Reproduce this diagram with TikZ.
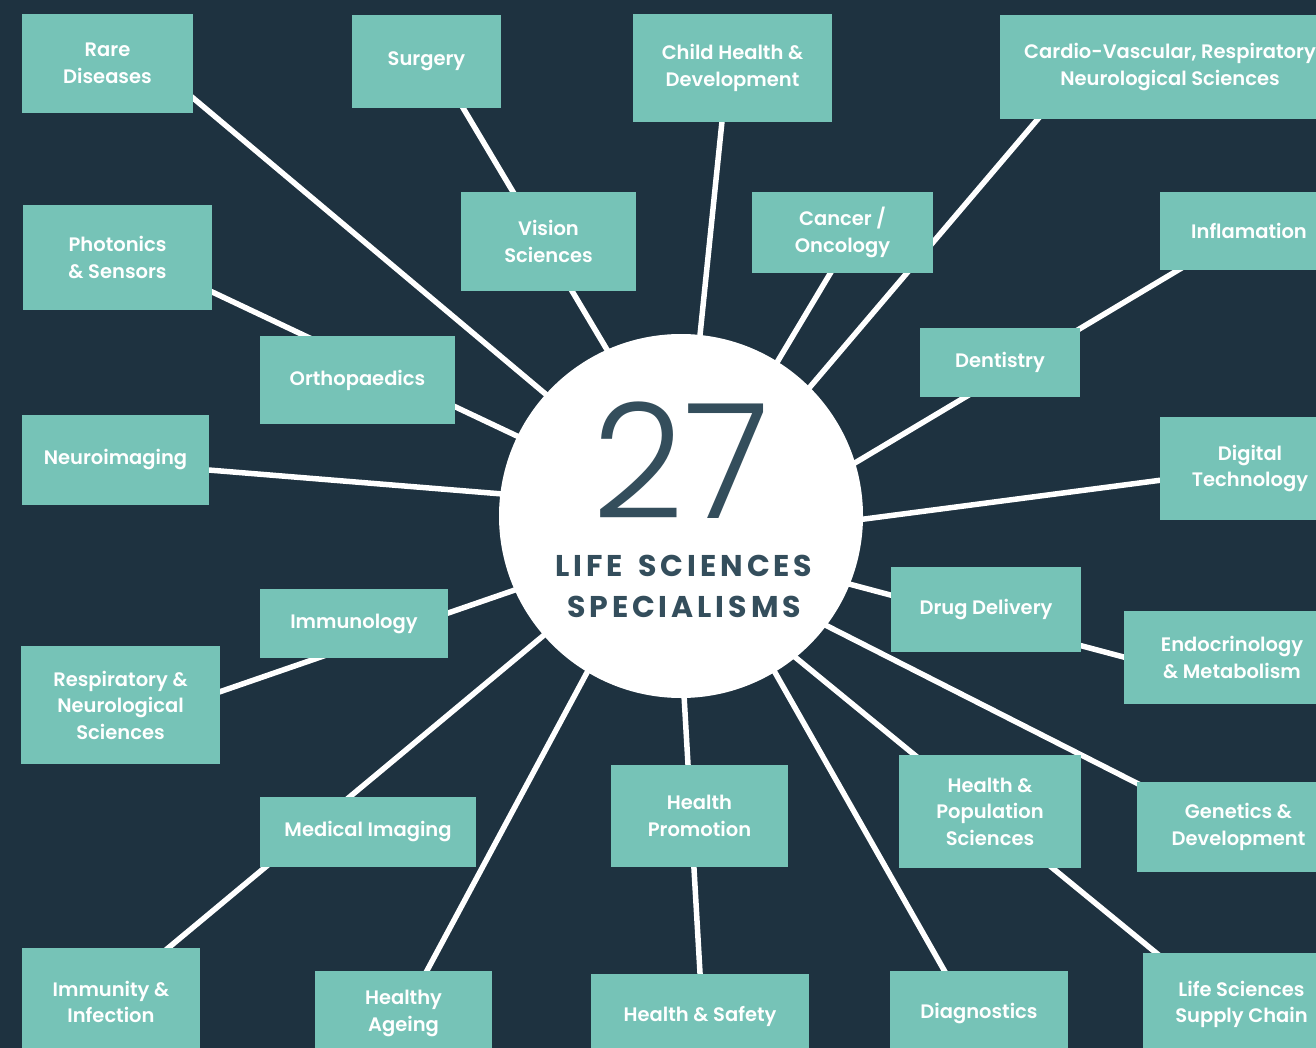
\documentclass[tikz,border=0pt]{standalone}
\usepackage{fontspec}
\setmainfont{Poppins}[BoldFont=Poppins SemiBold]
\newfontfamily\numfont{Poppins Light}
\newfontfamily\capsfont{Poppins}[UprightFont=* Bold, LetterSpace=13, WordSpace=1.5]
\definecolor{navy}{RGB}{30,50,64}
\definecolor{boxteal}{RGB}{118,195,183}
\definecolor{ink}{RGB}{52,78,92}
\begin{document}
\begin{tikzpicture}[x=1pt,y=-1pt,
  box/.style={fill=boxteal, text=white, inner sep=0pt, outer sep=0pt, align=center,
    font=\bfseries\fontsize{19.5}{26.5}\selectfont},
  hubtext/.style={anchor=base, text=ink, inner sep=0pt, text depth=0pt},
  link/.style={draw=white, line width=5.5pt, shorten >=-10pt}]
\useasboundingbox (0,0) rectangle (1316,1048);
\clip (0,0) rectangle (1316,1048);
\fill[navy] (0,0) rectangle (1316,1048);

% hub placement
\node[circle, minimum size=364pt, inner sep=0pt] (c) at (681,516) {};

% outer ends of the spokes
\coordinate (rareE) at (174,82);
\coordinate (surgE) at (450,86);
\coordinate (childE) at (724.5,97);
\coordinate (cardE) at (1054,100);
\coordinate (cancE) at (843,252);
\coordinate (inflE) at (1200,257);
\coordinate (photE) at (189,281);
\coordinate (neurE) at (184,468);
\coordinate (digiE) at (1185,477);
\coordinate (respE) at (196,700);
\coordinate (endoE) at (1148,663.5);
\coordinate (immuE) at (149,964);
\coordinate (ageE) at (415,993);
\coordinate (safeE) at (701.5,999);
\coordinate (diagE) at (957,993);
\coordinate (suppE) at (1177,970);
\coordinate (geneE) at (1162,796);

% spokes
\draw[link] (rareE) -- (c.138.8);
\draw[link] (surgE) -- (c.114.9);
\draw[link] (childE) -- (c.84);
\draw[link] (cardE) -- (c.45);
\draw[link] (cancE) -- (c.58.7);
\draw[link] (inflE) -- (c.17.8);
\draw[link] (photE) -- (c.154.1);
\draw[link] (neurE) -- (c.173.1);
\draw[link] (digiE) -- (c.359.4);
\draw[link] (respE) -- (c.204.3);
\draw[link] (endoE) -- (c.338.4);
\draw[link] (immuE) -- (c.221.7);
\draw[link] (ageE) -- (c.239.9);
\draw[link] (safeE) -- (c.271);
\draw[link] (diagE) -- (c.301.4);
\draw[link] (suppE) -- (c.309.4);
\draw[link] (geneE) -- (c.323.4);

% hub disc over the spoke ends
\fill[white] (c) circle[radius=182pt];
\node[hubtext, font=\numfont\fontsize{160}{160}\selectfont] (num) at (681,518) {27};
\node[hubtext, font=\capsfont\fontsize{30}{30}\selectfont] (l1) at (684,576) {LIFE SCIENCES};
\node[hubtext, font=\capsfont\fontsize{30}{30}\selectfont] (l2) at (684,617) {SPECIALISMS};

% specialism boxes
\node[box, minimum width=171pt, minimum height=99pt] (rare) at (107.5,63.5) {Rare\\Diseases};
\node[box, minimum width=149pt, minimum height=93pt] (surg) at (426.5,61.5) {Surgery};
\node[box, minimum width=199pt, minimum height=108pt] (child) at (732.5,68) {Child Health \&\\Development};
\node[box, minimum width=340pt, minimum height=104pt] (card) at (1170,67) {Cardio-Vascular, Respiratory\\Neurological Sciences};
\node[box, minimum width=175pt, minimum height=99pt] (vis) at (548.5,241.5) {Vision\\Sciences};
\node[box, minimum width=181pt, minimum height=81pt] (canc) at (842.5,232.5) {Cancer /\\Oncology};
\node[box, minimum width=178pt, minimum height=78pt] (infl) at (1249,231) {Inflamation};
\node[box, minimum width=189pt, minimum height=105pt] (phot) at (117.5,257.5) {Photonics\\\& Sensors};
\node[box, minimum width=195pt, minimum height=88pt] (orth) at (357.5,380) {Orthopaedics};
\node[box, minimum width=160pt, minimum height=69pt] (dent) at (1000,362.5) {Dentistry};
\node[box, minimum width=187pt, minimum height=90pt] (neur) at (115.5,460) {Neuroimaging};
\node[box, minimum width=180pt, minimum height=103pt] (digi) at (1250,468.5) {Digital\\Technology};
\node[box, minimum width=188pt, minimum height=69pt] (immo) at (354,623.5) {Immunology};
\node[box, minimum width=190pt, minimum height=85pt] (drug) at (986,609.5) {Drug Delivery};
\node[box, minimum width=199pt, minimum height=118pt] (resp) at (120.5,705) {Respiratory \&\\Neurological\\Sciences};
\node[box, minimum width=216pt, minimum height=93pt] (endo) at (1232,657.5) {Endocrinology\\\& Metabolism};
\node[box, minimum width=216pt, minimum height=70pt] (mimg) at (368,832) {Medical Imaging};
\node[box, minimum width=177pt, minimum height=102pt] (prom) at (699.5,816) {Health\\Promotion};
\node[box, minimum width=182pt, minimum height=113pt] (hpop) at (990,811.5) {Health \&\\Population\\Sciences};
\node[box, minimum width=203pt, minimum height=90pt] (gene) at (1238.5,827) {Genetics \&\\Development};
\node[box, minimum width=178pt, minimum height=108pt] (immu) at (111,1002) {Immunity \&\\Infection};
\node[box, minimum width=177pt, minimum height=85pt] (age) at (403.5,1013.5) {Healthy\\Ageing};
\node[box, minimum width=218pt, minimum height=84pt] (safe) at (700,1016) {Health \& Safety};
\node[box, minimum width=178pt, minimum height=85pt] (diag) at (979,1013.5) {Diagnostics};
\node[box, minimum width=197pt, minimum height=103pt] (supp) at (1241.5,1004.5) {Life Sciences\\Supply Chain};
\end{tikzpicture}
\end{document}
